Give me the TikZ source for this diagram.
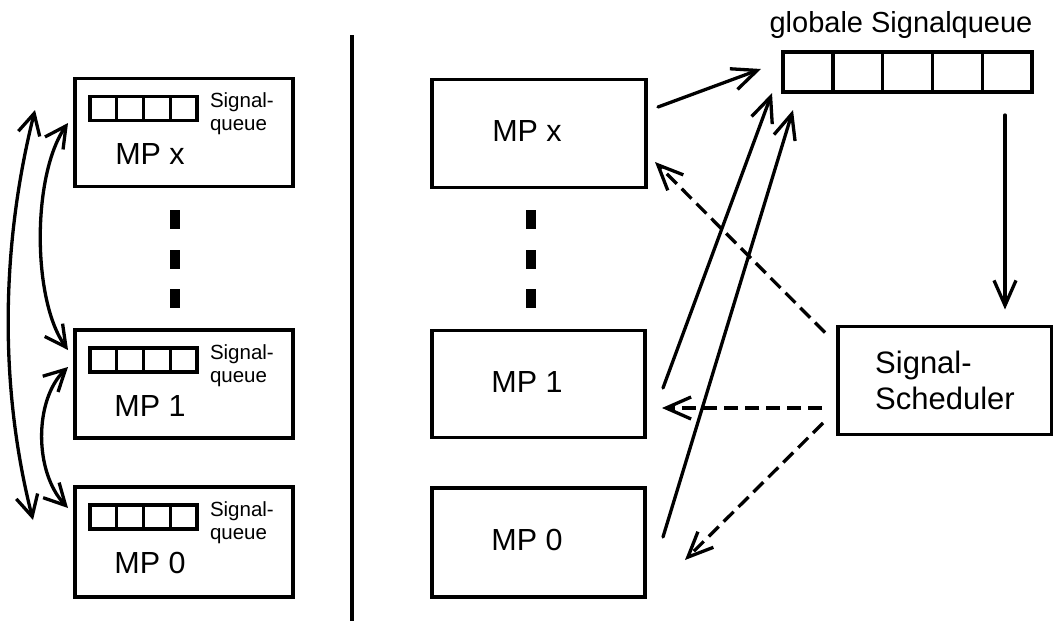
\documentclass[tikz,border=0pt]{standalone}
\usepackage{fontspec}
\setmainfont{Liberation Sans}
\usetikzlibrary{arrows.meta,calc}
\begin{document}
\begin{tikzpicture}[x=1pt,y=-1pt,
  every node/.style={inner sep=0pt,outer sep=0pt},
  mpbox/.style={draw,line width=3.6pt,minimum width=214pt,minimum height=108pt},
  big/.style={font=\fontsize{30.5}{36}\selectfont},
  small/.style={font=\fontsize{20.5}{24}\selectfont},
  conn/.style={line width=3.3pt,line cap=round,
    -{Straight Barb[length=25pt,width=22pt,line width=3.3pt]}},
  biconn/.style={line width=3.3pt,line cap=round,
    {Straight Barb[length=21pt,width=22pt,line width=3.3pt]}-{Straight Barb[length=21pt,width=22pt,line width=3.3pt]}},
  dconn/.style={conn,line cap=butt,dash pattern=on 14pt off 7pt},
  cell/.style={draw,line width=3.4pt},
  dot/.style={fill=black}]
\useasboundingbox (0,0) rectangle (1053,621);

% left column: processors with local signal queues
\node[mpbox,minimum width=218pt] (lx) at (184,132.5) {};
\node[mpbox,minimum width=218pt] (l1) at (184,384) {};
\node[mpbox,minimum width=218pt,minimum height=110pt] (l0) at (184,542) {};
\foreach \b/\t in {lx/x,l1/1,l0/0}{
  \foreach \i in {0,...,3}
    \draw[cell] ($(\b.north west)+(15+26.75*\i,18)$) rectangle +(26.75,24);
  \node[small,anchor=base west] (\b-sa) at ($(\b.north west)+(135,29)$) {Signal-};
  \node[small,anchor=base west] (\b-sb) at ($(\b.north west)+(135,52)$) {queue};
  \node[big,anchor=base] (\b-t) at ($(\b.north west)+(75,86)$) {MP \t};
}
\foreach \y in {210,250,289}
  \fill[dot] (170,\y) rectangle (180,\y+19);

% communication between local processors
\draw[biconn] ($(lx.west)+(-40,-22.5)$) .. controls (0,250) and (0,390) .. ($(l0.west)+(-42,-22)$);
\draw[biconn] ($(lx.west)+(-7,-9.5)$) .. controls (32,175) and (32,300) .. ($(l1.west)+(-7,-34)$);
\draw[biconn] ($(l1.west)+(-7,-17)$) .. controls (34,400) and (34,472) .. ($(l0.west)+(-7,-34)$);

% separator
\draw[line width=3.4pt] (352,35) -- (352,621);

% right column: processors with a global signal queue
\node[mpbox] (rx) at (539,133.5) {};
\node[mpbox,minimum width=213pt,minimum height=107pt] (r1) at (538.5,384) {};
\node[mpbox,minimum width=213pt,minimum height=109pt] (r0) at (538.5,542.5) {};
\foreach \b/\t in {rx/x,r1/1,r0/0}
  \node[big,anchor=base] (\b-t) at ($(\b.north west)+(95,62)$) {MP \t};
\foreach \y in {210,250,289}
  \fill[dot] (526,\y) rectangle (536,\y+19);

\node[draw,line width=3.6pt,minimum width=249pt,minimum height=40pt] (gq) at (907.5,72) {};
\foreach \i in {1,...,4}
  \draw[line width=3.4pt] ($(gq.north west)+(49.8*\i,0)$) -- ($(gq.south west)+(49.8*\i,0)$);
\node[font=\fontsize{29}{36}\selectfont,anchor=base] (gqlabel) at ($(gq.north)+(-6.5,-20)$) {globale Signalqueue};

\node[mpbox,font=\fontsize{31}{36}\selectfont,align=left] (sched) at (945,380.5) {Signal-\\Scheduler};

% signal flow
\draw[conn] ($(rx.east)+(12,-26.5)$) -- ($(gq.west)+(-22,-3)$);
\draw[conn] ($(r1.east)+(18,4)$) -- ($(gq.south west)+(-11,1)$);
\draw[conn] ($(r0.east)+(18,-5.5)$) -- ($(gq.south west)+(10,18)$);
\draw[conn] ($(gq.south east)+(-27,23)$) -- ($(sched.north east)+(-47,-17)$);
\draw[dconn] ($(sched.north west)+(-13,6)$) -- ($(rx.east)+(9,28.5)$);
\draw[dconn] ($(sched.west)+(-16,27.5)$) -- ($(r1.east)+(17,24)$);
\draw[dconn] ($(sched.west)+(-15,42.5)$) -- ($(r0.east)+(40,17.5)$);
\end{tikzpicture}
\end{document}
